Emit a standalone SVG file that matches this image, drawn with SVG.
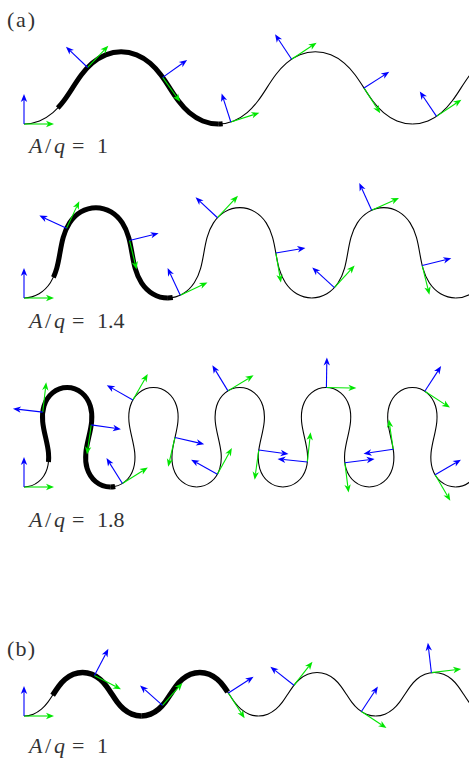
<svg xmlns="http://www.w3.org/2000/svg" xmlns:xlink="http://www.w3.org/1999/xlink" width="469" height="760" viewBox="0 0 469 760">
<style>
.thin{fill:none;stroke:#000;stroke-width:1.1}
.thick{fill:none;stroke:#000;stroke-width:5;stroke-linecap:butt}
.thinb{fill:none;stroke:#000;stroke-width:1.82}
.thickb{fill:none;stroke:#000;stroke-width:9.1;stroke-linecap:butt}
.gl{stroke:#00e600;stroke-width:1.1;fill:none}
.bl{stroke:#0000ff;stroke-width:1.1;fill:none}
.gh{fill:#00e600}
.bh{fill:#0000ff}
.lab{font-family:"Liberation Serif","DejaVu Serif",serif;font-size:22px;fill:#333}
.it{font-style:italic}
</style>
<defs>
<path id="w1" pathLength="6.2832" d="M0,0 C5.29,0 10.57,-1.06 15.47,-3.04 C20.38,-5.01 24.9,-7.89 28.92,-11.32 C32.94,-14.76 36.47,-18.74 39.65,-22.96 C42.84,-27.18 45.7,-31.64 48.56,-36.09 C51.42,-40.54 54.28,-44.99 57.47,-49.21 C60.65,-53.43 64.18,-57.42 68.2,-60.85 C72.22,-64.29 76.74,-67.16 81.65,-69.14 C86.55,-71.11 91.83,-72.18 97.12,-72.18 C102.41,-72.18 107.69,-71.11 112.59,-69.14 C117.5,-67.16 122.02,-64.29 126.04,-60.85 C130.06,-57.42 133.59,-53.43 136.77,-49.21 C139.96,-44.99 142.82,-40.54 145.68,-36.09 C148.54,-31.64 151.4,-27.18 154.59,-22.96 C157.77,-18.74 161.3,-14.76 165.32,-11.32 C169.34,-7.89 173.86,-5.01 178.77,-3.04 C183.67,-1.06 188.95,0 194.24,0"/>
<path id="w2" pathLength="6.2832" d="M0,0 C5.29,0 10.56,-1.5 15.1,-4.2 C19.65,-6.9 23.46,-10.76 26.36,-15.19 C29.27,-19.61 31.27,-24.57 32.72,-29.65 C34.17,-34.74 35.07,-39.96 35.97,-45.17 C36.87,-50.38 37.78,-55.61 39.22,-60.69 C40.67,-65.78 42.68,-70.74 45.58,-75.16 C48.48,-79.58 52.3,-83.44 56.84,-86.14 C61.39,-88.84 66.66,-90.34 71.95,-90.34 C77.23,-90.34 82.5,-88.84 87.05,-86.14 C91.59,-83.44 95.41,-79.58 98.31,-75.16 C101.21,-70.74 103.22,-65.78 104.67,-60.69 C106.12,-55.61 107.02,-50.38 107.92,-45.17 C108.82,-39.96 109.72,-34.74 111.17,-29.65 C112.62,-24.57 114.63,-19.61 117.53,-15.19 C120.43,-10.76 124.24,-6.9 128.79,-4.2 C133.34,-1.5 138.6,0 143.89,0"/>
<path id="w3" pathLength="6.2832" d="M0,0 C5.29,0 10.54,-1.96 14.62,-5.32 C18.7,-8.68 21.6,-13.37 23.15,-18.43 C24.7,-23.48 24.95,-28.87 24.47,-34.14 C23.98,-39.4 22.78,-44.57 21.58,-49.72 C20.37,-54.87 19.17,-60.04 18.69,-65.31 C18.2,-70.57 18.45,-75.96 20,-81.01 C21.56,-86.07 24.45,-90.76 28.53,-94.12 C32.62,-97.48 37.86,-99.44 43.15,-99.44 C48.44,-99.44 53.69,-97.48 57.77,-94.12 C61.85,-90.76 64.75,-86.07 66.3,-81.01 C67.85,-75.96 68.1,-70.57 67.62,-65.31 C67.13,-60.04 65.93,-54.87 64.73,-49.72 C63.53,-44.57 62.32,-39.4 61.84,-34.14 C61.35,-28.87 61.6,-23.48 63.15,-18.43 C64.71,-13.37 67.6,-8.68 71.69,-5.32 C75.77,-1.96 81.01,0 86.3,0"/>
<g id="fr">
<line class="gl" x1="0" y1="0" x2="24" y2="0"/>
<path class="gh" d="M30,0 L22,-3.2 L24.2,0 L22,3.2 Z"/>
<line class="bl" x1="0" y1="0" x2="0" y2="-24"/>
<path class="bh" d="M0,-30 L-3.2,-22 L0,-24.2 L3.2,-22 Z"/>
</g>
</defs>

<text class="lab" x="7" y="27" textLength="28">(a)</text>

<g id="row1">
<g id="row1-curve">
<use xlink:href="#w1" href="#w1" class="thin" transform="translate(24,124)"/>
<use xlink:href="#w1" href="#w1" class="thin" transform="translate(218.24,124)"/>
<use xlink:href="#w1" href="#w1" class="thin" transform="translate(412.48,124)"/>
<use xlink:href="#w1" href="#w1" class="thick" style="stroke-dasharray:0 0.95 5.3332 20" transform="translate(24,124)"/>
<use xlink:href="#w1" href="#w1" class="thick" style="stroke-dasharray:0.11 20" transform="translate(218.24,124)"/>
</g>
<g id="row1-frames">
<use xlink:href="#fr" href="#fr" transform="translate(24,124)"/>
<use xlink:href="#fr" href="#fr" transform="translate(87.63,67.49) rotate(-46.32)"/>
<use xlink:href="#fr" href="#fr" transform="translate(162.69,77.41) rotate(54.52)"/>
<use xlink:href="#fr" href="#fr" transform="translate(230.83,122) rotate(-17.85)"/>
<use xlink:href="#fr" href="#fr" transform="translate(291.61,59.24) rotate(-33.51)"/>
<use xlink:href="#fr" href="#fr" transform="translate(364.01,88.06) rotate(57.3)"/>
<use xlink:href="#fr" href="#fr" transform="translate(436.52,116.39) rotate(-33.92)"/>
</g>
<text class="lab" y="152.5"><tspan class="it" x="29">A</tspan><tspan x="45">/</tspan><tspan class="it" x="54">q</tspan><tspan x="72">=</tspan><tspan x="97">1</tspan></text>
</g>

<g id="row2">
<g id="row2-curve">
<use xlink:href="#w2" href="#w2" class="thin" transform="translate(24,298)"/>
<use xlink:href="#w2" href="#w2" class="thin" transform="translate(167.89,298)"/>
<use xlink:href="#w2" href="#w2" class="thin" transform="translate(311.78,298)"/>
<use xlink:href="#w2" href="#w2" class="thin" transform="translate(455.67,298)"/>
<use xlink:href="#w2" href="#w2" class="thick" style="stroke-dasharray:0 0.94 5.3432 20" transform="translate(24,298)"/>
<use xlink:href="#w2" href="#w2" class="thick" style="stroke-dasharray:0.12 20" transform="translate(167.89,298)"/>
</g>
<g id="row2-frames">
<use xlink:href="#fr" href="#fr" transform="translate(24,298)"/>
<use xlink:href="#fr" href="#fr" transform="translate(66.52,228.35) rotate(-64.85)"/>
<use xlink:href="#fr" href="#fr" transform="translate(129.49,240.44) rotate(76.33)"/>
<use xlink:href="#fr" href="#fr" transform="translate(180.28,295.23) rotate(-24.99)"/>
<use xlink:href="#fr" href="#fr" transform="translate(217.48,217.74) rotate(-46.92)"/>
<use xlink:href="#fr" href="#fr" transform="translate(275.84,253) rotate(80.21)"/>
<use xlink:href="#fr" href="#fr" transform="translate(334.38,287.66) rotate(-47.49)"/>
<use xlink:href="#fr" href="#fr" transform="translate(371.66,210.28) rotate(-24.32)"/>
<use xlink:href="#fr" href="#fr" transform="translate(422.21,265.56) rotate(76.12)"/>
</g>
<text class="lab" y="327.5"><tspan class="it" x="29">A</tspan><tspan x="45">/</tspan><tspan class="it" x="54">q</tspan><tspan x="72">=</tspan><tspan x="97">1.4</tspan></text>
</g>

<g id="row3">
<g id="row3-curve">
<use xlink:href="#w3" href="#w3" class="thin" transform="translate(24,487)"/>
<use xlink:href="#w3" href="#w3" class="thin" transform="translate(110.3,487)"/>
<use xlink:href="#w3" href="#w3" class="thin" transform="translate(196.6,487)"/>
<use xlink:href="#w3" href="#w3" class="thin" transform="translate(282.91,487)"/>
<use xlink:href="#w3" href="#w3" class="thin" transform="translate(369.21,487)"/>
<use xlink:href="#w3" href="#w3" class="thin" transform="translate(455.51,487)"/>
<use xlink:href="#w3" href="#w3" class="thick" style="stroke-dasharray:0 0.95 5.3332 20" transform="translate(24,487)"/>
<use xlink:href="#w3" href="#w3" class="thick" style="stroke-dasharray:0.12 20" transform="translate(110.3,487)"/>
</g>
<g id="row3-frames">
<use xlink:href="#fr" href="#fr" transform="translate(24,487)"/>
<use xlink:href="#fr" href="#fr" transform="translate(42.73,412.15) rotate(-83.38)"/>
<use xlink:href="#fr" href="#fr" transform="translate(91.23,424.91) rotate(98.14)"/>
<use xlink:href="#fr" href="#fr" transform="translate(122.43,483.47) rotate(-32.13)"/>
<use xlink:href="#fr" href="#fr" transform="translate(132.87,400.03) rotate(-60.32)"/>
<use xlink:href="#fr" href="#fr" transform="translate(174.99,437.45) rotate(103.13)"/>
<use xlink:href="#fr" href="#fr" transform="translate(217.36,474.22) rotate(-61.05)"/>
<use xlink:href="#fr" href="#fr" transform="translate(227.93,390.9) rotate(-31.27)"/>
<use xlink:href="#fr" href="#fr" transform="translate(258.77,450) rotate(97.86)"/>
<use xlink:href="#fr" href="#fr" transform="translate(307.36,462.06) rotate(-83.92)"/>
<use xlink:href="#fr" href="#fr" transform="translate(326.41,387.56) rotate(0.91)"/>
<use xlink:href="#fr" href="#fr" transform="translate(344.83,462.76) rotate(82.84)"/>
<use xlink:href="#fr" href="#fr" transform="translate(393.24,449.29) rotate(-98.43)"/>
<use xlink:href="#fr" href="#fr" transform="translate(424.79,391.28) rotate(33)"/>
<use xlink:href="#fr" href="#fr" transform="translate(435.11,474.84) rotate(59.58)"/>
</g>
<text class="lab" y="527"><tspan class="it" x="29">A</tspan><tspan x="45">/</tspan><tspan class="it" x="54">q</tspan><tspan x="72">=</tspan><tspan x="97">1.8</tspan></text>
</g>

<text class="lab" x="7" y="656" textLength="28">(b)</text>

<g id="rowb">
<g id="rowb-curve">
<use xlink:href="#w1" href="#w1" class="thinb" transform="translate(24,716) scale(0.60347)"/>
<use xlink:href="#w1" href="#w1" class="thinb" transform="translate(141.22,716) scale(0.60347)"/>
<use xlink:href="#w1" href="#w1" class="thinb" transform="translate(258.43,716) scale(0.60347)"/>
<use xlink:href="#w1" href="#w1" class="thinb" transform="translate(375.65,716) scale(0.60347)"/>
<use xlink:href="#w1" href="#w1" class="thickb" style="stroke-dasharray:0 1.52 4.7632 20" transform="translate(24,716) scale(0.60347)"/>
<use xlink:href="#w1" href="#w1" class="thickb" style="stroke-dasharray:4.6 20" transform="translate(141.22,716) scale(0.60347)"/>
</g>
<g id="rowb-frames">
<use xlink:href="#fr" href="#fr" transform="translate(24,716)"/>
<use xlink:href="#fr" href="#fr" transform="translate(94.41,675.42) rotate(27.67)"/>
<use xlink:href="#fr" href="#fr" transform="translate(162.52,705.36) rotate(-48.46)"/>
<use xlink:href="#fr" href="#fr" transform="translate(228.36,693.02) rotate(57.2)"/>
<use xlink:href="#fr" href="#fr" transform="translate(293.9,685.29) rotate(-51.71)"/>
<use xlink:href="#fr" href="#fr" transform="translate(361.39,711.57) rotate(33.36)"/>
<use xlink:href="#fr" href="#fr" transform="translate(431.39,672.61) rotate(-6.72)"/>
</g>
<text class="lab" y="753"><tspan class="it" x="29">A</tspan><tspan x="45">/</tspan><tspan class="it" x="54">q</tspan><tspan x="72">=</tspan><tspan x="97">1</tspan></text>
</g>
</svg>
